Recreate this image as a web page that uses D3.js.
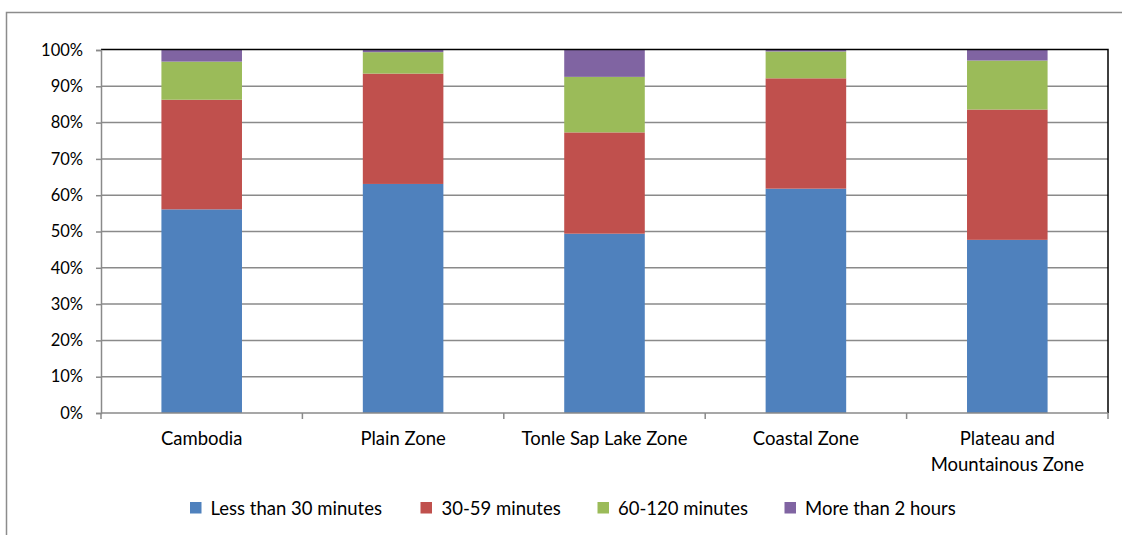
<!DOCTYPE html>
<html><head><meta charset="utf-8">
<script src="https://cdn.jsdelivr.net/npm/d3@7"></script>
<style>body{margin:0;background:#fff}svg{display:block}text{font-family:Lato,"Open Sans",sans-serif;fill:#000}</style>
</head><body><svg id="c" width="1122" height="535"></svg>
<script>
const categories = ["Cambodia","Plain Zone","Tonle Sap Lake Zone","Coastal Zone","Plateau and\nMountainous Zone"];
const seriesNames = ["Less than 30 minutes","30-59 minutes","60-120 minutes","More than 2 hours"];
const lessThan30 = [56.1,63.1,49.4,61.8,47.7];
const min30to59 = [30.2,30.4,27.9,30.4,35.9];
const min60to120 = [10.5,5.9,15.3,7.4,13.5];
const moreThan2h = [3.2,0.6,7.4,0.4,2.9];
const yTicks = [0,10,20,30,40,50,60,70,80,90,100];
const colors = ["#4F81BD","#C0504D","#9BBB59","#8064A2"];

const svg = d3.select("#c");
const L=101, R=1108, T=50, B=413;
// outer border
svg.append("path").attr("d","M6.5,540V12.5H1125").attr("fill","none").attr("stroke","#8c8c8c").attr("stroke-width",1.5);

const x = d3.scaleBand().domain(categories).range([L,R]).paddingInner(0.6).paddingOuter(0.3);
const y = d3.scaleLinear().domain([0,100]).range([B,T]);

// gridlines
svg.append("g").selectAll("line").data(yTicks.filter(d=>d>0&&d<100)).join("line")
 .attr("x1",L).attr("x2",R).attr("y1",d=>y(d)).attr("y2",d=>y(d))
 .attr("stroke","#8a8a8a").attr("stroke-width",1.5);

const rows = categories.map((c,i)=>({cat:c, s0:lessThan30[i], s1:min30to59[i], s2:min60to120[i], s3:moreThan2h[i]}));
const stack = d3.stack().keys(["s0","s1","s2","s3"])(rows);
stack.forEach((layer,k)=>{
  svg.append("g").selectAll("rect").data(layer).join("rect")
   .attr("x",d=>x(d.data.cat)).attr("width",x.bandwidth())
   .attr("y",d=>y(Math.min(d[1],100))).attr("height",d=>y(d[0])-y(Math.min(d[1],100)))
   .attr("fill",colors[k]);
});

// plot border top/right black
svg.append("path").attr("d",`M${L},${T-0.5}H${R}V${B}`).attr("fill","none").attr("stroke","#000").attr("stroke-width",1.5);

// y axis
const yAxis = d3.axisLeft(y).tickValues(yTicks).tickFormat(d=>d+"%").tickSize(5).tickPadding(13);
const gy = svg.append("g").attr("transform",`translate(${L},0)`).call(yAxis);
gy.select(".domain").attr("stroke","#8a8a8a").attr("stroke-width",1.5);
gy.selectAll(".tick line").attr("stroke","#8a8a8a").attr("stroke-width",1.5);
gy.selectAll("text").attr("font-size",16.5).attr("font-family","Lato,sans-serif");

// x axis
svg.append("line").attr("x1",L).attr("x2",R).attr("y1",B).attr("y2",B).attr("stroke","#8a8a8a").attr("stroke-width",1.5);
const bounds = d3.range(categories.length+1).map(i=>L+i*(R-L)/categories.length);
svg.append("g").selectAll("line").data(bounds).join("line")
 .attr("x1",d=>d).attr("x2",d=>d).attr("y1",B).attr("y2",B+6).attr("stroke","#8a8a8a").attr("stroke-width",1.5);
const xl = svg.append("g").selectAll("text").data(categories).join("text")
 .attr("text-anchor","middle").attr("font-size",18.5)
 .attr("x",d=>x(d)+x.bandwidth()/2).attr("y",445);
xl.each(function(d){
  const lines=d.split("\n");
  d3.select(this).selectAll("tspan").data(lines).join("tspan")
   .attr("x",x(d)+x.bandwidth()/2).attr("dy",(l,i)=>i?26:0).text(l=>l);
});

// legend
const swX = [190,420.5,597.5,784.5];
const txX = [210.5,441.5,618,805];
const lg = svg.append("g");
lg.selectAll("rect").data(seriesNames).join("rect")
 .attr("x",(d,i)=>swX[i]).attr("y",502).attr("width",11.5).attr("height",11.5).attr("fill",(d,i)=>colors[i]);
lg.selectAll("text").data(seriesNames).join("text")
 .attr("x",(d,i)=>txX[i]).attr("y",514.5).attr("font-size",18.5).text(d=>d);
</script></body></html>
